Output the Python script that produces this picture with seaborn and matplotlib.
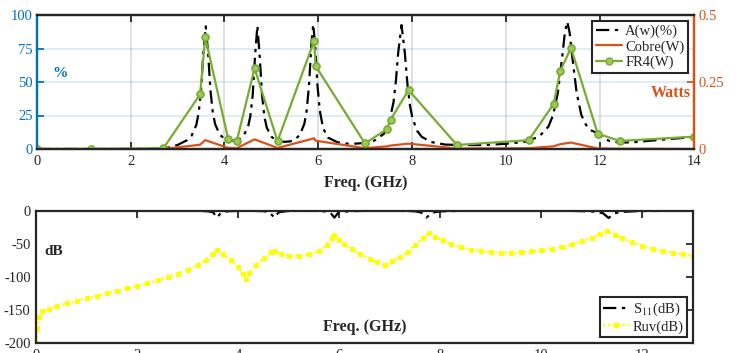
import numpy as np
import pandas as pd
import matplotlib
matplotlib.use("Agg")
import matplotlib.pyplot as plt
from matplotlib.lines import Line2D
import seaborn as sns

# ---------------- data ----------------
# Top panel: absorption A(w) in %
aw_freq = [0, 1.0, 2.0, 2.6, 2.8, 3.0, 3.2, 3.3, 3.4, 3.45, 3.5, 3.55, 3.6, 3.65, 3.7, 3.75,
           3.8, 3.9, 4.0, 4.1, 4.2, 4.3, 4.4, 4.5, 4.55, 4.6, 4.65, 4.7, 4.75, 4.8, 4.85,
           4.9, 5.0, 5.1, 5.2, 5.3, 5.4, 5.5, 5.6, 5.7, 5.75, 5.8, 5.85, 5.89, 5.93, 5.98,
           6.03, 6.1, 6.2, 6.4, 6.6, 6.8, 7.0, 7.2, 7.4, 7.5, 7.6, 7.65, 7.7, 7.77, 7.84,
           7.9, 7.95, 8.0, 8.1, 8.2, 8.4, 8.7, 9.0, 9.5, 10.0, 10.4, 10.7, 10.9, 11.0, 11.1,
           11.2, 11.25, 11.3, 11.35, 11.4, 11.5, 11.6, 11.7, 11.8, 11.9, 12.0, 12.1, 12.2,
           12.4, 12.7, 13.0, 13.5, 14.0]
aw_pct = [0, 0, 0, 0.2, 1.0, 3.0, 6.5, 10, 18, 27, 44, 72, 91.5, 72, 44, 27.5,
          18.5, 10.7, 7.6, 6.4, 6.2, 7.0, 9.5, 16.3, 24.4, 40, 69, 92, 69, 40, 24,
          16, 9.1, 6.6, 5.5, 5.4, 5.7, 7.1, 10.3, 18.7, 28.6, 47.5, 78, 93, 78, 47.5,
          28.6, 15.6, 8.6, 5.1, 4.0, 4.0, 4.6, 6.4, 11.5, 18.6, 35, 50.5, 72, 92.5, 72,
          47, 32.5, 23.5, 13.7, 9.1, 5.2, 3.3, 3.0, 2.9, 3.9, 5.4, 9.2, 16.8, 25.4, 42,
          71, 87, 95, 87, 71, 42, 25.4, 18, 14, 12.5, 10, 7.5, 6.0,
          4.8, 5.0, 6.0, 7.5, 9.0]

# Top panel: dissipated power (W) in copper and FR4
pw_freq = [0, 1.15, 2.7, 3.48, 3.59, 4.08, 4.26, 4.64, 5.13, 5.91, 5.94, 6.99, 7.46, 7.54,
           7.92, 8.95, 10.48, 11.01, 11.15, 11.38, 11.95, 12.42, 14.0]
cobre_w = [0, 0, 0, 0.016, 0.033, 0.004, 0.003, 0.036, 0.004, 0.040, 0.031, 0.003, 0.010,
           0.013, 0.020, 0.002, 0.003, 0.010, 0.018, 0.024, 0.002, 0.001, 0.0]
fr4_w = [0, 0, 0.003, 0.204, 0.417, 0.036, 0.029, 0.301, 0.029, 0.404, 0.310, 0.021, 0.074,
         0.110, 0.220, 0.015, 0.033, 0.168, 0.290, 0.377, 0.057, 0.030, 0.046]

# Bottom panel: S11 (dB)
s11_freq = [0, 1, 2, 2.8, 3.2, 3.4, 3.5, 3.58, 3.66, 3.8, 4.0, 4.3, 4.5, 4.62, 4.71, 4.8,
            4.95, 5.2, 5.5, 5.7, 5.82, 5.9, 5.98, 6.2, 6.6, 7.2, 7.5, 7.62, 7.72, 7.84, 8.0,
            8.5, 9.5, 10.5, 10.9, 11.1, 11.22, 11.33, 11.44, 11.6, 11.9, 12.5, 13]
s11_db = [0, 0, 0, -0.05, -0.3, -0.9, -2.5, -10.5, -2.5, -0.8, -0.35, -0.3, -0.7, -2.5, -10.5,
          -2.5, -0.7, -0.25, -0.35, -0.9, -2.8, -10.5, -2.8, -0.7, -0.2, -0.3, -0.9, -2.8,
          -10.5, -2.8, -1.0, -0.2, -0.1, -0.2, -0.8, -1.8, -4, -11, -4, -1.8, -0.6, -0.2, -0.3]

# Bottom panel: Ruv (dB)
ruv_freq = [0, 0.02, 0.06, 0.12, 0.25, 0.4, 0.6, 0.8, 1.0, 1.2, 1.4, 1.6, 1.8, 2.0, 2.2, 2.4,
            2.6, 2.8, 3.0, 3.2, 3.35, 3.5, 3.58, 3.7, 3.85, 4.0, 4.1, 4.15, 4.22, 4.35, 4.5,
            4.65, 4.72, 4.85, 5.0, 5.2, 5.4, 5.6, 5.75, 5.85, 5.9, 6.0, 6.1, 6.25, 6.4, 6.6,
            6.75, 6.9, 7.05, 7.2, 7.35, 7.5, 7.65, 7.77, 7.9, 8.05, 8.2, 8.4, 8.6, 8.8, 9.0,
            9.2, 9.4, 9.6, 9.8, 10.0, 10.2, 10.4, 10.6, 10.8, 11.0, 11.15, 11.3, 11.45, 11.6,
            11.8, 12.0, 12.2, 12.4, 12.6, 12.8, 13.0]
ruv_db = [-200, -178, -160, -152, -148, -144.5, -140, -136, -132, -128.5, -125, -121, -117.5,
          -114, -110, -105, -100, -95, -89, -82, -74, -65, -60, -66, -75, -85, -96, -103, -94,
          -82, -72, -63, -61, -65, -68, -68, -66, -61, -52, -42, -37, -44, -50, -58, -65, -73,
          -78, -82, -76, -70, -62, -52, -42, -34, -40, -45, -50, -55, -59, -61, -62.5, -63.5,
          -63.5, -63, -61.5, -60, -58, -55, -51, -46, -41, -35, -31, -36, -42, -48, -53, -58,
          -61, -63.5, -66, -68]

top_xticks = [0, 2, 4, 6, 8, 10, 12, 14]
left_yticks = [0, 25, 50, 75, 100]
right_yticks = [0, 0.25, 0.5]
bot_xticks = [0, 2, 4, 6, 8, 10, 12]
bot_yticks = [0, -50, -100, -150, -200]

# ---------------- style ----------------
sns.set_theme(style="white")
plt.rcParams["font.family"] = ["Liberation Serif", "DejaVu Serif"]
plt.rcParams["mathtext.fontset"] = "stix"
plt.rcParams["axes.unicode_minus"] = False

BLUE = "#0072BD"
ORANGE = "#D95319"
GREEN = "#77AC30"
YELLOW = "#FFFF00"
FS = 10.5
DASHDOT = (0, (6, 2.5, 1.5, 2.5))

fig = plt.figure(figsize=(7.39, 3.53), dpi=100)
ax1 = fig.add_axes([36.7 / 739, 1 - 149 / 353, 657.3 / 739, 134 / 353])
ax2 = ax1.twinx()
ax3 = fig.add_axes([36.3 / 739, 1 - 343 / 353, 656.7 / 739, 132.3 / 353])

# ---------------- top panel ----------------
df_aw = pd.DataFrame({"f": aw_freq, "a": aw_pct})
df_pw = pd.DataFrame({"f": pw_freq, "cobre": cobre_w, "fr4": fr4_w})

sns.lineplot(data=df_aw, x="f", y="a", ax=ax1, color="black", lw=1.6,
             linestyle=DASHDOT, sort=False, estimator=None)
sns.lineplot(data=df_pw, x="f", y="cobre", ax=ax2, color=ORANGE, lw=1.6,
             sort=False, estimator=None)
sns.lineplot(data=df_pw, x="f", y="fr4", ax=ax2, color=GREEN, lw=1.6, marker="o",
             markersize=5, markeredgecolor=GREEN, markerfacecolor="#9CC95E",
             markeredgewidth=1.2, sort=False, estimator=None)

ax1.set_xlim(0, 14)
ax1.set_ylim(0, 100)
ax2.set_ylim(0, 0.5)
ax1.set_xticks(top_xticks)
ax1.set_yticks(left_yticks)
ax2.set_yticks(right_yticks)
ax2.set_yticklabels(["0", "0.25", "0.5"])
ax1.set_xlabel("")
ax1.set_ylabel("")
ax2.set_ylabel("")

# grids: vertical gray, horizontal light blue
for xv in top_xticks[1:-1]:
    ax1.axvline(xv, color="#000000", alpha=0.13, lw=1.3, zorder=0)
for yv in left_yticks[1:-1]:
    ax1.axhline(yv, color=BLUE, alpha=0.15, lw=1.3, zorder=0)

for a in (ax1, ax2):
    for sp in ["top", "bottom"]:
        a.spines[sp].set_color("#262626")
        a.spines[sp].set_linewidth(1.6)
    a.spines["left"].set_color(BLUE)
    a.spines["left"].set_linewidth(1.6)
    a.spines["right"].set_color(ORANGE)
    a.spines["right"].set_linewidth(1.6)

ax1.tick_params(axis="x", direction="in", length=5, width=1.3, top=True, bottom=True,
                colors="#262626", labelsize=FS, pad=4, labelcolor="#262626")
ax1.tick_params(axis="y", direction="in", length=5, width=1.3, colors=BLUE,
                labelsize=FS, pad=3)
ax2.tick_params(axis="y", direction="in", length=5, width=1.3, colors=ORANGE,
                labelsize=FS, pad=3)

ax1.text(0.5, -0.255, "Freq. (GHz)", transform=ax1.transAxes, ha="center", va="center",
         fontsize=11.5, fontweight="bold", color="#262626")
ax1.text(0.035, 0.56, "%", transform=ax1.transAxes, ha="center", va="center",
         fontsize=11, fontweight="bold", color=BLUE)
ax2.text(0.995, 0.42, "Watts", transform=ax2.transAxes, ha="right", va="center",
         fontsize=11.5, fontweight="bold", color=ORANGE)

handles_top = [
    Line2D([], [], color="black", lw=1.6, linestyle=DASHDOT),
    Line2D([], [], color=ORANGE, lw=1.6),
    Line2D([], [], color=GREEN, lw=1.6, marker="o", markersize=5,
           markerfacecolor="#9CC95E", markeredgecolor=GREEN),
]
leg1 = ax2.legend(handles_top, ["A(w)(%)", "Cobre(W)", "FR4(W)"], loc="upper right",
                  fontsize=FS, frameon=True, fancybox=False, framealpha=1,
                  edgecolor="#262626", handlelength=1.8, handletextpad=0.2,
                  labelspacing=0.15, borderpad=0.25, borderaxespad=0.4)
leg1.get_frame().set_linewidth(1.5)

# ---------------- bottom panel ----------------
df_s11 = pd.DataFrame({"f": s11_freq, "s": s11_db})
df_ruv = pd.DataFrame({"f": ruv_freq, "r": ruv_db})

sns.lineplot(data=df_s11, x="f", y="s", ax=ax3, color="black", lw=1.6,
             linestyle=DASHDOT, sort=False, estimator=None)
sns.lineplot(data=df_ruv, x="f", y="r", ax=ax3, color=YELLOW, lw=1.6,
             linestyle=(0, (1, 1.2)), marker="s", markersize=3, markeredgecolor=YELLOW,
             sort=False, estimator=None)

ax3.set_xlim(0, 13)
ax3.set_ylim(-200, 0)
ax3.set_xticks(bot_xticks)
ax3.set_yticks(bot_yticks)
ax3.set_xlabel("")
ax3.set_ylabel("")
for sp in ax3.spines.values():
    sp.set_color("#262626")
    sp.set_linewidth(1.6)
ax3.tick_params(direction="in", length=5, width=1.3, top=True, right=True,
                colors="#262626", labelsize=FS, pad=4)

ax3.text(0.5, 0.12, "Freq. (GHz)", transform=ax3.transAxes, ha="center", va="center",
         fontsize=11.5, fontweight="bold", color="#262626")
ax3.text(0.012, 0.69, "dB", transform=ax3.transAxes, ha="left", va="center",
         fontsize=11, fontweight="bold", color="#262626")

handles_bot = [
    Line2D([], [], color="black", lw=1.6, linestyle=DASHDOT),
    Line2D([], [], color=YELLOW, lw=1.6, linestyle=(0, (1, 1.2)), marker="s", markersize=3),
]
leg2 = ax3.legend(handles_bot, ["S$_{11}$(dB)", "Ruv(dB)"], loc="lower right",
                  fontsize=FS, frameon=True, fancybox=False, framealpha=1,
                  edgecolor="#262626", handlelength=1.8, handletextpad=0.2,
                  labelspacing=0.15, borderpad=0.25, borderaxespad=0.4)
leg2.get_frame().set_linewidth(1.5)

fig.savefig("out.png", dpi=100)
